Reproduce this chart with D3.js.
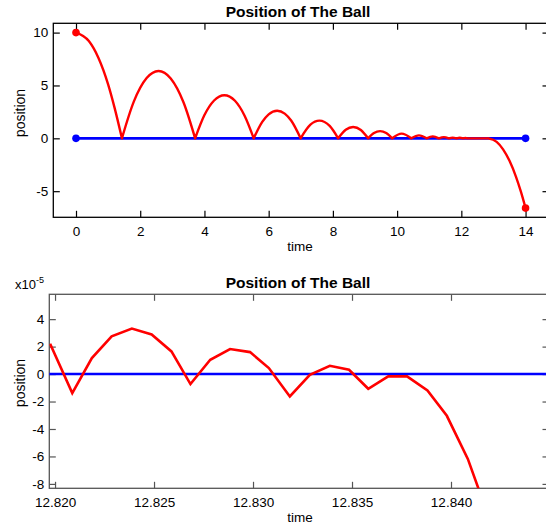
<!DOCTYPE html>
<html>
<head>
<meta charset="utf-8">
<script src="https://cdn.jsdelivr.net/npm/d3@7"></script>
<style>
  body { margin: 0; background: #fff; }
  svg { display: block; font-family: "Liberation Sans", Arial, sans-serif; }
  .tick text { fill: #000; }
</style>
</head>
<body>
<svg id="chart" width="546" height="525"></svg>
<script>
// ball trajectory (time, position)
var topTime = [0, 0.4, 0.7, 1.0, 1.2, 1.43,
  1.8, 2.2, 2.57, 2.95, 3.35, 3.71,
  4.0, 4.3, 4.62, 4.95, 5.25, 5.535,
  5.8, 6.0, 6.265, 6.5, 6.7, 6.995,
  7.3, 7.58, 7.9, 8.163,
  8.4, 8.63, 8.87, 9.097,
  9.28, 9.47, 9.66, 9.844,
  10.14, 10.442,
  10.68, 10.92,
  11.11, 11.30,
  11.455, 11.61,
  11.73, 11.85,
  11.95, 12.05,
  12.125, 12.2, 12.4, 12.6, 12.84,
  13.1, 13.3, 13.5, 13.7, 13.85, 14];
var topPos = [10, 9.2, 7.6, 5.1, 2.9, 0,
  3.47, 5.7, 6.37, 5.66, 3.39, 0,
  2.2, 3.58, 4.08, 3.55, 2.14, 0,
  1.55, 2.27, 2.61, 2.34, 1.68, 0,
  1.29, 1.67, 1.17, 0,
  0.81, 1.07, 0.79, 0,
  0.5, 0.68, 0.5, 0,
  0.44, 0,
  0.28, 0,
  0.18, 0,
  0.115, 0,
  0.07, 0,
  0.05, 0,
  0.03, 0, 0, 0, 0,
  -0.33, -1.04, -2.13, -3.62, -5.0, -6.6];

// floor line
var floorTime = [0, 14];
var floorPos = [0, 0];

// zoom near t = 12.83, positions in units of 1e-5
var zoomTime = [12.81975, 12.82087, 12.82186, 12.82286, 12.82388, 12.82488, 12.82588,
  12.82684, 12.82784, 12.82884, 12.82985, 12.83080, 12.83186, 12.83287, 12.83388,
  12.83485, 12.83582, 12.83683, 12.83778, 12.83881, 12.83979, 12.84085, 12.84185];
var zoomPos = [2.2, -1.39, 1.17, 2.75, 3.31, 2.89, 1.65,
  -0.73, 1.04, 1.82, 1.6, 0.44, -1.63, -0.05, 0.6,
  0.31, -1.07, -0.17, -0.17, -1.2, -3.04, -6.18, -10.2];

var topXTicks = [0, 2, 4, 6, 8, 10, 12, 14];
var topYTicks = [-5, 0, 5, 10];
var zoomXTicks = [12.820, 12.825, 12.830, 12.835, 12.840];
var zoomYTicks = [-8, -6, -4, -2, 0, 2, 4];

var titleText = "Position of The Ball";

var svg = d3.select("#chart");

// plain hyphen minus, like the original
function intFmt(d) { return String(d); }

function panel(opt) {
  var g = svg.append("g");
  var x = d3.scaleLinear().domain(opt.xDomain).range([opt.left, opt.right]);
  var y = d3.scaleLinear().domain(opt.yDomain).range([opt.bottom, opt.top]);
  var tk = 6.5;

  g.append("clipPath").attr("id", opt.id + "clip")
    .append("rect")
    .attr("x", opt.left).attr("y", opt.top)
    .attr("width", opt.right - opt.left).attr("height", opt.bottom - opt.top);

  // axes (ticks inward on all four sides)
  var axB = g.append("g").attr("transform", "translate(0," + opt.bottom + ")")
    .call(d3.axisBottom(x).tickValues(opt.xTicks).tickFormat(opt.xFormat)
      .tickSizeInner(-tk).tickSizeOuter(0).tickPadding(9));
  var axT = g.append("g").attr("transform", "translate(0," + opt.top + ")")
    .call(d3.axisTop(x).tickValues(opt.xTicks).tickFormat("")
      .tickSizeInner(-tk).tickSizeOuter(0));
  var axL = g.append("g").attr("transform", "translate(" + opt.left + ",0)")
    .call(d3.axisLeft(y).tickValues(opt.yTicks).tickFormat(intFmt)
      .tickSizeInner(-tk).tickSizeOuter(0).tickPadding(5));
  var axR = g.append("g").attr("transform", "translate(" + opt.right + ",0)")
    .call(d3.axisRight(y).tickValues(opt.yTicks).tickFormat("")
      .tickSizeInner(-tk).tickSizeOuter(0));

  [axB, axT, axL, axR].forEach(function(a) {
    a.select(".domain").remove();
    a.selectAll(".tick line").attr("stroke", opt.frameColor).attr("stroke-width", 1.2);
    a.selectAll(".tick text").style("font-size", "13.5px").attr("fill", "#000");
  });

  g.append("rect")
    .attr("x", opt.left).attr("y", opt.top)
    .attr("width", opt.right - opt.left).attr("height", opt.bottom - opt.top)
    .attr("fill", "none").attr("stroke", opt.frameColor).attr("stroke-width", 1.3);

  // title and labels
  g.append("text").attr("x", 298).attr("y", opt.top - 6)
    .attr("text-anchor", "middle")
    .style("font-size", "15.5px").style("font-weight", "bold")
    .text(titleText);
  g.append("text").attr("x", 300).attr("y", opt.bottom + 34)
    .attr("text-anchor", "middle").style("font-size", "13.5px")
    .text("time");
  g.append("text")
    .attr("transform", "translate(25," + opt.labelY + ") rotate(-90)")
    .attr("text-anchor", "middle").style("font-size", "14px")
    .text("position");

  var plot = g.append("g").attr("clip-path", "url(#" + opt.id + "clip)");
  return {x: x, y: y, g: g, plot: plot};
}

// ---- top panel
var p1 = panel({
  id: "p1", left: 53.3, right: 549, top: 23.3, bottom: 217.3,
  xDomain: [-0.707, 14.73], yDomain: [-7.47, 10.88],
  xTicks: topXTicks, yTicks: topYTicks, xFormat: intFmt,
  frameColor: "#000", labelY: 113
});

var lineTop = d3.line()
  .curve(d3.curveMonotoneX)
  .x(function(d) { return p1.x(d.t); })
  .y(function(d) { return p1.y(d.p); });

// split the trajectory at each floor contact so the bounces stay sharp
var pts = topTime.map(function(t, i) { return {t: t, p: topPos[i]}; });
var segs = [], cur = [];
pts.forEach(function(d, i) {
  cur.push(d);
  if (d.p === 0 && i > 0) { segs.push(cur); cur = [d]; }
});
if (cur.length > 1) segs.push(cur);

var floorPts = floorTime.map(function(t, i) { return {t: t, p: floorPos[i]}; });

p1.plot.append("path")
  .attr("d", d3.line().x(function(d) { return p1.x(d.t); }).y(function(d) { return p1.y(d.p); })(floorPts))
  .attr("fill", "none").attr("stroke", "#0000ff").attr("stroke-width", 2.6);

p1.plot.append("path")
  .attr("d", segs.map(function(s) { return lineTop(s); }).join(""))
  .attr("fill", "none").attr("stroke", "#ff0000").attr("stroke-width", 2.4)
  .attr("stroke-linejoin", "round").attr("stroke-linecap", "round");

p1.plot.selectAll(".bdot").data([floorPts[0], floorPts[floorPts.length - 1]])
  .enter().append("circle").attr("class", "bdot")
  .attr("cx", function(d) { return p1.x(d.t); })
  .attr("cy", function(d) { return p1.y(d.p); })
  .attr("r", 3.8).attr("fill", "#0000ff");

p1.plot.selectAll(".rdot").data([pts[0], pts[pts.length - 1]])
  .enter().append("circle").attr("class", "rdot")
  .attr("cx", function(d) { return p1.x(d.t); })
  .attr("cy", function(d) { return p1.y(d.p); })
  .attr("r", 3.8).attr("fill", "#ff0000");

// ---- bottom panel
var p2 = panel({
  id: "p2", left: 49.3, right: 549, top: 294.3, bottom: 488.3,
  xDomain: [12.81971, 12.84495], yDomain: [-8.32, 5.81],
  xTicks: zoomXTicks, yTicks: zoomYTicks, xFormat: d3.format(".3f"),
  frameColor: "#555", labelY: 383
});

var zoomPts = zoomTime.map(function(t, i) { return {t: t, p: zoomPos[i]}; });
var lineZoom = d3.line()
  .x(function(d) { return p2.x(d.t); })
  .y(function(d) { return p2.y(d.p); });

p2.plot.append("path")
  .attr("d", lineZoom(floorPts))
  .attr("fill", "none").attr("stroke", "#0000ff").attr("stroke-width", 2.6);

p2.plot.append("path")
  .attr("d", lineZoom(zoomPts))
  .attr("fill", "none").attr("stroke", "#ff0000").attr("stroke-width", 2.6)
  .attr("stroke-linejoin", "miter");

// exponent label
var ex = svg.append("text").attr("x", 15).attr("y", 288.5).style("font-size", "13px");
ex.append("tspan").text("x10");
ex.append("tspan").attr("dy", -6).style("font-size", "9px").text("-5");
</script>
</body>
</html>
